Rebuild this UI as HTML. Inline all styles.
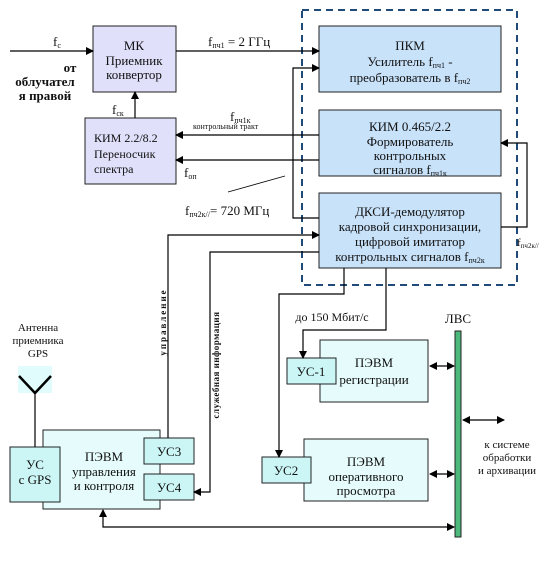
<!DOCTYPE html>
<html><head><meta charset="utf-8"><style>
html,body{margin:0;padding:0;background:#fff}
svg{display:block}
text{font-family:"Liberation Serif",serif;fill:#111}
</style></head><body>
<svg width="560" height="578" viewBox="0 0 560 578" xmlns="http://www.w3.org/2000/svg">
<defs>
<marker id="a" markerWidth="8" markerHeight="8" refX="7" refY="4" orient="auto" markerUnits="userSpaceOnUse"><path d="M0,0 L8,4 L0,8 z" fill="#000"/></marker>
<marker id="b" markerWidth="8" markerHeight="8" refX="1" refY="4" orient="auto" markerUnits="userSpaceOnUse"><path d="M8,0 L0,4 L8,8 z" fill="#000"/></marker>
<clipPath id="c"><rect x="0" y="0" width="120" height="107"/></clipPath>
</defs>
<rect x="302" y="10" width="215" height="275" fill="none" stroke="#1f4a7a" stroke-width="2" stroke-dasharray="7,5"/>
<g stroke="#222" stroke-width="1">
<rect x="93" y="26" width="83" height="66" fill="#e0e0fb"/>
<rect x="85" y="118" width="91" height="66" fill="#e0e0fb"/>
<rect x="319" y="26" width="182" height="66" fill="#c8e2fa"/>
<rect x="319" y="110" width="182" height="66" fill="#c8e2fa"/>
<rect x="319" y="193" width="182" height="75" fill="#c8e2fa"/>
<rect x="320" y="340" width="108" height="62" fill="#e6fcfc"/>
<rect x="287" y="358" width="49" height="26" fill="#ccf6f6"/>
<rect x="304" y="439" width="124" height="62" fill="#e6fcfc"/>
<rect x="262" y="457" width="49" height="26" fill="#ccf6f6"/>
<rect x="43" y="430" width="117" height="79" fill="#e6fcfc"/>
<rect x="10" y="447" width="50" height="55" fill="#ccf6f6"/>
<rect x="144" y="438" width="50" height="26" fill="#ccf6f6"/>
<rect x="144" y="474" width="50" height="26" fill="#ccf6f6"/>
<rect x="455" y="331" width="6" height="206" fill="#4cb87c"/>
</g>
<rect x="18" y="366" width="34" height="27" fill="#e0fcfc"/>
<g stroke="#000" stroke-width="1.2" fill="none">
<path d="M19,376 L35,393 L51,376" stroke-width="2.5"/>
<line x1="35" y1="393" x2="35" y2="447"/>
<line x1="10" y1="51" x2="93" y2="51" marker-end="url(#a)"/>
<line x1="176" y1="51" x2="319" y2="51" marker-end="url(#a)"/>
<line x1="135" y1="118" x2="135" y2="92" marker-end="url(#a)"/>
<line x1="319" y1="135" x2="176" y2="135" marker-end="url(#a)"/>
<line x1="319" y1="160" x2="176" y2="160" marker-end="url(#a)"/>
<line x1="228" y1="192" x2="285" y2="176" stroke-width="0.8"/>
<path d="M319,218 H293 V68 H319" marker-end="url(#a)"/>
<path d="M501,227 H527 V143 H501" marker-end="url(#a)"/>
<path d="M168,438 V235 H319" marker-end="url(#a)"/>
<path d="M319,252 H210 V492 H194" marker-end="url(#a)"/>
<path d="M344,268 V294 H279 V457" marker-end="url(#a)"/>
<path d="M386,268 V330 H303 V358" marker-end="url(#a)"/>
<line x1="430" y1="366" x2="454" y2="366" marker-start="url(#b)" marker-end="url(#a)"/>
<line x1="430" y1="474" x2="454" y2="474" marker-start="url(#b)" marker-end="url(#a)"/>
<line x1="463" y1="420" x2="504" y2="420" marker-start="url(#b)" marker-end="url(#a)"/>
<path d="M103,510 V527 H454" marker-start="url(#b)" marker-end="url(#a)"/>
</g>
<g font-size="13" text-anchor="middle">
<text x="57" y="46">f<tspan font-size="8" dy="2">c</tspan></text>
<text x="134" y="50">МК</text>
<text x="134" y="65">Приемник</text>
<text x="134" y="79">конвертор</text>
<text x="410" y="50">ПКМ</text>
<text x="410" y="66">Усилитель f<tspan font-size="8" dy="2">пч1</tspan><tspan dy="-2"> -</tspan></text>
<text x="410" y="82">преобразователь в f<tspan font-size="8" dy="2">пч2</tspan></text>
<text x="410" y="131">КИМ 0.465/2.2</text>
<text x="410" y="146">Формирователь</text>
<text x="410" y="160">контрольных</text>
<text x="410" y="174">сигналов f<tspan font-size="8" dy="2">пч1к</tspan></text>
<text x="410" y="216">ДКСИ-демодулятор</text>
<text x="410" y="231">кадровой синхронизации,</text>
<text x="410" y="246">цифровой имитатор</text>
<text x="410" y="261">контрольных сигналов f<tspan font-size="8" dy="2">пч2к</tspan></text>
<text x="374" y="367">ПЭВМ</text>
<text x="374" y="384">регистрации</text>
<text x="311" y="376">УС-1</text>
<text x="366" y="466">ПЭВМ</text>
<text x="366" y="481">оперативного</text>
<text x="366" y="495">просмотра</text>
<text x="286" y="475">УС2</text>
<text x="104" y="461">ПЭВМ</text>
<text x="104" y="476">управления</text>
<text x="104" y="490">и контроля</text>
<text x="35" y="469">УС</text>
<text x="35" y="484">с GPS</text>
<text x="169" y="456">УС3</text>
<text x="169" y="492">УС4</text>
<text x="458" y="323">ЛВС</text>
<text x="332" y="321" font-size="12">до 150 Мбит/с</text>
</g>
<g font-size="11" text-anchor="middle">
<text x="38" y="331">Антенна</text>
<text x="38" y="344">приемника</text>
<text x="38" y="357">GPS</text>
<text x="507" y="448">к системе</text>
<text x="507" y="461">обработки</text>
<text x="507" y="474">и архивации</text>
</g>
<g font-size="12">
<text x="94" y="142">КИМ 2.2/8.2</text>
<text x="94" y="158">Переносчик</text>
<text x="94" y="173">спектра</text>
</g>
<g font-size="13">
<text x="208" y="46">f<tspan font-size="8" dy="2">пч1</tspan><tspan dy="-2">  = 2 ГГц</tspan></text>
<text x="112" y="114">f<tspan font-size="8" dy="2">ск</tspan></text>
<text x="230" y="121">f<tspan font-size="8" dy="2">пч1к</tspan></text>
<text x="184" y="177">f<tspan font-size="8" dy="2">оп</tspan></text>
<text x="185" y="215">f<tspan font-size="8" dy="2">пч2к//</tspan><tspan dy="-2">= 720 МГц</tspan></text>
<text x="517" y="246" font-size="11">f<tspan font-size="7" dy="2">пч2к//</tspan></text>
</g>
<text x="193" y="129" font-size="8">контрольный тракт</text>
<g font-size="13" font-weight="bold" text-anchor="middle">
<text x="70" y="72">от</text>
<text x="45" y="86">облучател</text>
<text x="45" y="100">я правой</text>
<text x="68" y="113" clip-path="url(#c)">поля</text>
</g>
<g font-size="9" font-weight="bold" text-anchor="middle" letter-spacing="2">
<text transform="translate(166,322) rotate(-90)">управление</text>
<text transform="translate(219,365) rotate(-90)" letter-spacing="0.5">служебная информация</text>
</g>
</svg>
</body></html>
